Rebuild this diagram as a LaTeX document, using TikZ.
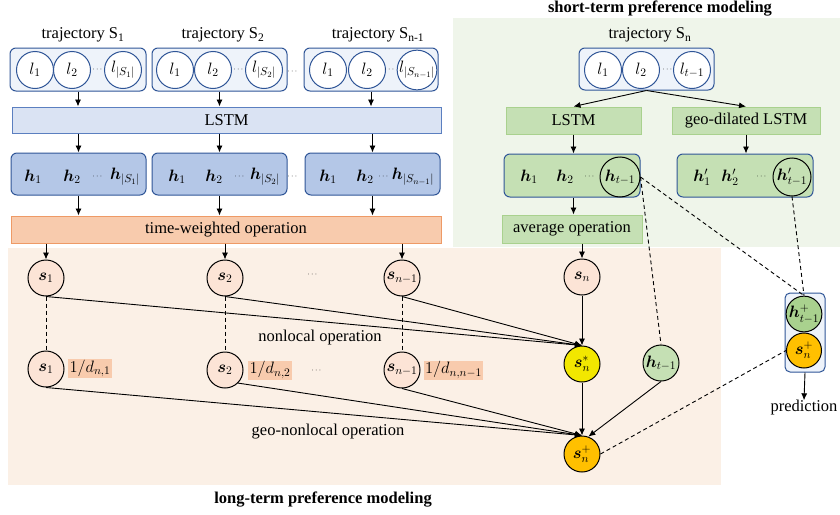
\RequirePackage{fix-cm}
\documentclass[tikz,border=0pt]{standalone}
\usepackage{amsmath,bm}
\usepackage{fontspec}
\setmainfont{Liberation Serif}
\usetikzlibrary{arrows.meta}
\definecolor{bblue}{HTML}{2F5597}
\definecolor{lblue}{HTML}{EEF3FA}
\definecolor{lstmblue}{HTML}{DAE3F3}
\definecolor{lstmborder}{HTML}{5B7FC0}
\definecolor{hblue}{HTML}{B4C7E7}
\definecolor{twfill}{HTML}{F8CBAD}
\definecolor{twborder}{HTML}{EE9A66}
\definecolor{peachbg}{HTML}{FBF0E6}
\definecolor{greenbg}{HTML}{EFF5EA}
\definecolor{gfill}{HTML}{C5E0B4}
\definecolor{gborder}{HTML}{A9D18E}
\definecolor{snfill}{HTML}{FCE4D6}
\definecolor{yel}{HTML}{F2E700}
\definecolor{gold}{HTML}{FFC000}
\definecolor{hplus}{HTML}{A9D18E}
\begin{document}
\begin{tikzpicture}[x=1pt,y=-1pt,
  font=\fontsize{16.5}{19}\selectfont,
  arr/.style={-{Latex[length=7pt,width=6pt]},line width=0.9pt},
  dsh/.style={line width=0.9pt,dash pattern=on 4pt off 3pt},
  trajbox/.style={draw=bblue,fill=lblue,rounded corners=6pt,line width=1pt,inner sep=0pt},
  lc/.style={circle,draw=bblue,fill=white,line width=1pt,minimum size=37pt,inner sep=0pt},
  lstmbar/.style={draw=lstmborder,fill=lstmblue,line width=1pt,inner sep=0pt},
  hbox/.style={draw=bblue,fill=hblue,rounded corners=6pt,line width=1pt,inner sep=0pt},
  ghbox/.style={draw=bblue,fill=gfill,rounded corners=6pt,line width=1pt,inner sep=0pt},
  gbar/.style={draw=gborder,fill=gfill,line width=1pt,inner sep=0pt},
  twbar/.style={draw=twborder,fill=twfill,line width=1pt,inner sep=0pt},
  sc/.style={circle,draw=black,fill=snfill,line width=1pt,minimum size=36pt,inner sep=0pt},
  hc/.style={circle,draw=black,line width=1pt,minimum size=40pt,inner sep=0pt},
  lab/.style={fill=twfill,inner sep=0pt,minimum height=19pt},
  dots/.style={font=\fontsize{8}{8}\selectfont,inner sep=0pt},
  txt/.style={inner sep=0pt},
  title/.style={inner sep=0pt,font=\fontsize{16.5}{19}\selectfont\bfseries}]
\useasboundingbox (0,0) rectangle (840,514);
% backgrounds
\fill[peachbg] (8,248) rectangle (721,485);
\fill[greenbg] (453,18) rectangle (840,247);
\node[title] (stitle) at (660,9) {short-term preference modeling};
\node[title] (ltitle) at (323,500) {long-term preference modeling};

% ---------- long-term trajectories ----------
\node[txt] (tt1) at (83,35) {trajectory S\textsubscript{1}};
\node[txt] (tt2) at (223,35) {trajectory S\textsubscript{2}};
\node[txt] (tt3) at (378,35) {trajectory S\textsubscript{n-1}};

\node[trajbox,minimum width=136pt,minimum height=43pt] (t1) at (78,69.5) {};
\node[trajbox,minimum width=135pt,minimum height=43pt] (t2) at (219.5,69.5) {};
\node[trajbox,minimum width=134pt,minimum height=43pt] (t3) at (371,69.5) {};
\node[dots] (tdots) at (293,72) {$\cdots$};

\node[lc] (t1a) at (35,70) {$l_1$};
\node[lc] (t1b) at (72,70) {$l_2$};
\node[dots] (t1d) at (98,70) {$\cdots$};
\node[lc] (t1c) at (123,70) {$l_{|S_1|}$};
\node[lc] (t2a) at (175,70) {$l_1$};
\node[lc] (t2b) at (213,70) {$l_2$};
\node[dots] (t2d) at (239,70) {$\cdots$};
\node[lc] (t2c) at (264,70) {$l_{|S_2|}$};
\node[lc] (t3a) at (328,70) {$l_1$};
\node[lc] (t3b) at (367,70) {$l_2$};
\node[dots] (t3d) at (390,70) {$\cdots$};
\node[lc] (t3c) at (417,70) {$l_{|S_{n-1}|}$};

\node[lstmbar,minimum width=429pt,minimum height=26pt] (lstm) at (226.5,120) {LSTM};

\node[hbox,minimum width=135pt,minimum height=42pt] (h1) at (78.5,174) {};
\node[hbox,minimum width=135pt,minimum height=42pt] (h2) at (219.5,174) {};
\node[hbox,minimum width=135pt,minimum height=42pt] (h3) at (372.5,174) {};
\node[dots] (hdots) at (293,177) {$\cdots$};

\node[txt] (h1a) at (33,177) {$\bm{h}_1$};
\node[txt] (h1b) at (72,177) {$\bm{h}_2$};
\node[dots] (h1d) at (98,177) {$\cdots$};
\node[txt] (h1c) at (125,177) {$\bm{h}_{|S_1|}$};
\node[txt] (h2a) at (177,177) {$\bm{h}_1$};
\node[txt] (h2b) at (214,177) {$\bm{h}_2$};
\node[dots] (h2d) at (240,177) {$\cdots$};
\node[txt] (h2c) at (265,177) {$\bm{h}_{|S_2|}$};
\node[txt] (h3a) at (328,177) {$\bm{h}_1$};
\node[txt] (h3b) at (365,177) {$\bm{h}_2$};
\node[dots] (h3d) at (384,177) {$\cdots$};
\node[txt] (h3c) at (413,177) {$\bm{h}_{|S_{n-1}|}$};

\node[twbar,minimum width=430pt,minimum height=27pt] (tw) at (226,229.5) {time-weighted operation};

\foreach \t in {t1,t2,t3} \draw[arr] (\t.south) -- (\t.south |- lstm.north);
\foreach \h in {h1,h2,h3} {
  \draw[arr] (\h.north |- lstm.south) -- (\h.north);
  \draw[arr] (\h.south) -- (\h.south |- tw.north);
}

% s nodes
\node[sc] (s1) at (46,278) {$\bm{s}_1$};
\node[sc] (s2) at (225,278) {$\bm{s}_2$};
\node[dots] (sdots) at (313,275) {$\cdots$};
\node[sc] (s3) at (402,278) {$\bm{s}_{n-1}$};
\foreach \s in {s1,s2,s3} \draw[arr] (\s.north |- tw.south) -- (\s.north);

\node[sc] (s1b) at (46,369) {$\bm{s}_1$};
\node[sc] (s2b) at (225,370) {$\bm{s}_2$};
\node[dots] (sbdots) at (317,371) {$\cdots$};
\node[sc] (s3b) at (402,370) {$\bm{s}_{n-1}$};
\node[lab,minimum width=44pt] (d1) at (90,368.5) {$1/d_{n,1}$};
\node[lab,minimum width=44pt] (d2) at (270,370) {$1/d_{n,2}$};
\node[lab,minimum width=59pt] (d3) at (453.5,370) {$1/d_{n,n-1}$};

\foreach \s in {s1,s2,s3} \draw[dsh] (\s.south) -- (\s b.north);

\node[txt] (nl) at (320,338) {nonlocal operation};
\node[txt] (gnl) at (328,432) {geo-nonlocal operation};

% ---------- short-term ----------
\node[txt] (ttn) at (650,35) {trajectory S\textsubscript{n}};
\node[trajbox,minimum width=135pt,minimum height=42pt] (tn) at (646.5,69) {};
\node[lc] (tna) at (603,70) {$l_1$};
\node[lc] (tnb) at (641,70) {$l_2$};
\node[dots] (tnd) at (668,70) {$\cdots$};
\node[lc] (tnc) at (692,70) {$l_{t-1}$};

\node[gbar,minimum width=135pt,minimum height=27pt] (glstm) at (573.5,120.5) {LSTM};
\node[gbar,minimum width=148pt,minimum height=27pt] (gdl) at (746,120.5) {geo-dilated LSTM};
\draw[arr] (tn.south) -- (glstm.north);
\draw[arr] (tn.south) -- (gdl.north);

\node[ghbox,minimum width=136pt,minimum height=43pt] (gh) at (572,175.5) {};
\node[txt] (gh1) at (529,177) {$\bm{h}_1$};
\node[txt] (gh2) at (565,177) {$\bm{h}_2$};
\node[dots] (ghd) at (590,177) {$\cdots$};
\node[hc] (ghc) at (620,177) {$\bm{h}_{t-1}$};

\node[ghbox,minimum width=136pt,minimum height=43pt] (gp) at (745,175.5) {};
\node[txt] (gp1) at (702,177) {$\bm{h}'_1$};
\node[txt] (gp2) at (730,177) {$\bm{h}'_2$};
\node[dots] (gpd) at (762,177) {$\cdots$};
\node[hc,minimum size=38pt] (gpc) at (792,177) {$\bm{h}'_{t-1}$};

\draw[arr] (glstm.south) -- (glstm.south |- gh.north);
\draw[arr] (gdl.south) -- (gdl.south |- gp.north);

\node[gbar,minimum width=140pt,minimum height=28pt] (avg) at (572,229) {average operation};
\draw[arr] (glstm.south |- gh.south) -- (glstm.south |- avg.north);

\node[sc] (sn) at (582,277) {$\bm{s}_n$};
\draw[arr] (sn.north |- avg.south) -- (sn.north);

\node[sc,fill=yel] (sstar) at (582,364) {$\bm{s}_n^{*}$};
\node[sc,fill=gfill] (htm) at (661,363) {$\bm{h}_{t-1}$};
\node[sc,fill=gold] (sp) at (582,454) {$\bm{s}_n^{+}$};

% right output
\node[trajbox,rounded corners=5pt,minimum width=40pt,minimum height=79pt] (rb) at (805,332.5) {};
\node[sc,fill=hplus,minimum size=35pt] (hp) at (804,314) {$\bm{h}_{t-1}^{+}$};
\node[sc,fill=gold,minimum size=35pt] (spr) at (804,350.5) {$\bm{s}_n^{+}$};
\node[txt] (pred) at (804,408) {prediction};
\draw[arr] (rb.south) -- (pred.north);

% connections
\draw[arr] (s1.south) -- (sstar.north);
\draw[arr] (s2.south) -- (sstar.north);
\draw[arr] (s3.south) -- (sstar.north);
\draw[arr] (sn) -- (sstar);
\draw[arr] (s1b.south) -- (sp.north);
\draw[arr] (s2b.-45) -- (sp.north);
\draw[arr] (s3b.south) -- (sp.north);
\draw[arr] (sstar) -- (sp);
\draw[arr] (htm.south) -- (sp.70);

\draw[dsh] (ghc.east) -- (htm.north);
\draw[dsh] (ghc.east) -- (hp.north);
\draw[dsh] (gpc.south) -- (hp.north);
\draw[dsh] (sp.east) -- (spr.west);
\end{tikzpicture}
\end{document}
